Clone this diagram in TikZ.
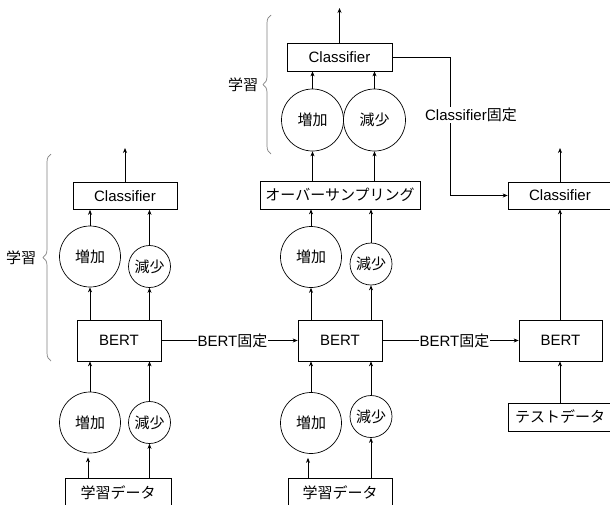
\documentclass[tikz,border=0pt]{standalone}
\usepackage{fontspec}
\setmainfont{Liberation Sans}
\newfontfamily\jp{Noto Sans CJK JP}
\usetikzlibrary{arrows.meta,decorations.pathreplacing}
\begin{document}
\begin{tikzpicture}[x=1pt,y=-1pt,
  every node/.style={font=\fontsize{15}{18}\selectfont},
  box/.style={draw, line width=0.7pt, inner sep=0pt, minimum width=104pt, minimum height=27pt},
  bertbox/.style={box, minimum width=84pt, minimum height=41pt},
  databox/.style={box, minimum height=30pt, anchor=north},
  bigc/.style={draw, circle, line width=0.7pt, inner sep=0pt, minimum size=61pt},
  smc/.style={draw, circle, line width=0.7pt, inner sep=0pt, minimum size=42pt},
  arr/.style={draw, line width=0.7pt, -{Stealth[length=5pt,width=4pt]}},
  lbl/.style={fill=white, inner sep=1pt},
  bracestyle/.style={draw, gray, line width=0.7pt, decorate, decoration={brace, amplitude=8pt}},
]
\useasboundingbox (0,0) rectangle (610,504);

% ---------- left column ----------
\node[box] (lcls) at (125,196) {Classifier};
\coordinate (lout) at (125,148);
\node[bigc] (lci1) at (90,256.5) {\jp 増加};
\node[smc] (lcd1) at (149.5,266.5) {\jp 減少};
\node[bertbox] (lbert) at (119,340.5) {BERT};
\node[bigc] (lci2) at (90,422.5) {\jp 増加};
\node[smc] (lcd2) at (149.5,422.5) {\jp 減少};
\node[databox, minimum width=106pt] (ldata) at (118,478) {\raisebox{3pt}{\jp 学習データ}};

\draw[arr] (lcls.north) -- (lout);
\draw[arr] (lci1.north) -- (lci1.north |- lcls.south);
\draw[arr] (lcd1.north) -- (lcd1.north |- lcls.south);
\draw[arr] (lbert.north -| lci1) -- (lci1.south);
\draw[arr] (lbert.north -| lcd1) -- (lcd1.south);
\draw[arr] (lci2.north) -- (lci2.north |- lbert.south);
\draw[arr] (lcd2.north) -- (lcd2.north |- lbert.south);
\draw[arr, shorten >=4pt] ([xshift=-2pt]ldata.north -| lci2) -- ([xshift=-2pt]lci2.south);
\draw[arr] (ldata.north -| lcd2) -- (lcd2.south);

\node (lgak) at (21,257.5) {\jp 学習};
\draw[bracestyle] (51,361) -- (51,154);

% ---------- middle column ----------
\node[box, minimum width=105pt, minimum height=28pt] (mcls) at (339.5,57) {Classifier};
\coordinate (mout) at (339.5,8);
\node[bigc, minimum size=62pt] (mci0) at (312.5,120) {\jp 増加};
\node[bigc, minimum size=62pt] (mcd0) at (374.5,120) {\jp 減少};
\node[box, minimum width=160pt, minimum height=28pt] (over) at (340,195) {\jp オーバーサンプリング};
\node[bigc] (mci1) at (311,257) {\jp 増加};
\node[smc] (mcd1) at (371,264) {\jp 減少};
\node[bertbox] (mbert) at (340,340.5) {BERT};
\node[bigc] (mci2) at (311,423) {\jp 増加};
\node[smc] (mcd2) at (371,416.5) {\jp 減少};
\node[databox] (mdata) at (340,478) {\raisebox{3pt}{\jp 学習データ}};

\draw[arr] (mcls.north) -- (mout);
\draw[arr] (mci0.north) -- (mci0.north |- mcls.south);
\draw[arr] (mcd0.north) -- (mcd0.north |- mcls.south);
\draw[arr] (over.north -| mci0) -- (mci0.south);
\draw[arr] (over.north -| mcd0) -- (mcd0.south);
\draw[arr] (mci1.north) -- (mci1.north |- over.south);
\draw[arr] (mcd1.north) -- (mcd1.north |- over.south);
\draw[arr] (mbert.north -| mci1) -- (mci1.south);
\draw[arr] (mbert.north -| mcd1) -- (mcd1.south);
\draw[arr] (mci2.north) -- (mci2.north |- mbert.south);
\draw[arr] (mcd2.north) -- (mcd2.north |- mbert.south);
\draw[arr, shorten >=4pt] ([xshift=-3pt]mdata.north -| mci2) -- ([xshift=-3pt]mci2.south);
\draw[arr] (mdata.north -| mcd2) -- (mcd2.south);

\node (mgak) at (243,85) {\jp 学習};
\draw[bracestyle] (271,154) -- (271,15);

% ---------- right column ----------
\node[box] (rcls) at (560,195.5) {Classifier};
\coordinate (rout) at (560,148);
\node[bertbox, minimum width=83pt] (rbert) at (560.5,340.5) {BERT};
\node[box, minimum height=28pt] (test) at (560,417) {\jp テストデータ};

\draw[arr] (rcls.north) -- (rout);
\draw[arr] (rbert.north -| rcls) -- (rcls.south);
\draw[arr] (test.north) -- (test.north |- rbert.south);

% ---------- connectors between columns ----------
\draw[arr] (lbert.east) -- node[lbl, xshift=3pt] {BERT{\jp 固定}} (mbert.west);
\draw[arr] (mbert.east) -- node[lbl, xshift=4pt] {BERT{\jp 固定}} (rbert.west);
\coordinate (turn) at (450,0);
\draw[arr] (mcls.east) -- (mcls.east -| turn)
  -- node[lbl, pos=0.42, xshift=21pt] {Classifier{\jp 固定}} (turn |- rcls.west)
  -- (rcls.west);
\end{tikzpicture}
\end{document}
